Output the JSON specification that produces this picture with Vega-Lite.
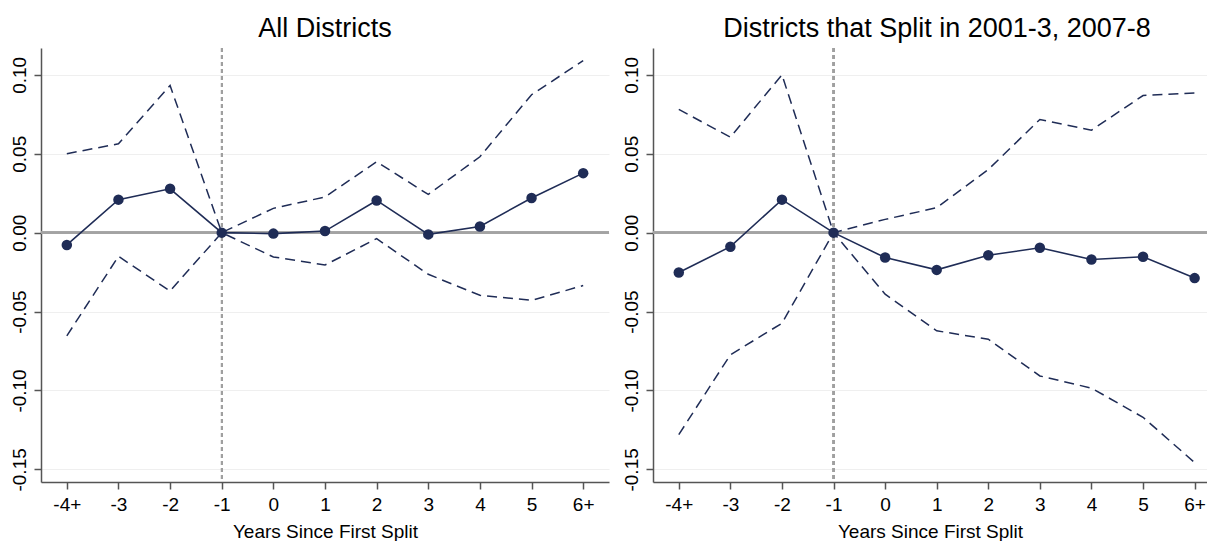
{
  "$schema": "https://vega.github.io/schema/vega-lite/v6.json",
  "background": "white",
  "padding": {"left": 10, "top": 15, "right": 0, "bottom": 0},
  "bounds": "flush",
  "spacing": 44,
  "config": {
    "font": "Liberation Sans",
    "view": {"stroke": null},
    "title": {"fontSize": 27, "fontWeight": "normal", "color": "#000000", "baseline": "alphabetic", "offset": 4, "anchor": "middle", "font": "Liberation Sans"},
    "axis": {
      "domainColor": "#555555", "domainWidth": 1.5,
      "tickColor": "#555555", "tickWidth": 1.5, "tickSize": 7,
      "labelFont": "Liberation Sans", "labelFontSize": 19, "labelColor": "#000000",
      "titleFont": "Liberation Sans", "titleFontSize": 19, "titleFontWeight": "normal", "titleColor": "#000000",
      "labelOverlap": false
    },
    "axisX": {"grid": false, "labelPadding": 6, "titlePadding": 8, "labelAngle": 0, "labelFlush": false},
    "axisY": {"grid": true, "gridColor": "#efefef", "gridWidth": 1.2, "labelAngle": -90, "labelAlign": "center", "labelBaseline": "alphabetic", "labelPadding": 9}
  },
  "datasets": {
    "all": [
      {"t": -4, "est": -0.0078, "lo": -0.0654, "hi": 0.0500},
      {"t": -3, "est": 0.0209, "lo": -0.0150, "hi": 0.0563},
      {"t": -2, "est": 0.0278, "lo": -0.0370, "hi": 0.0932},
      {"t": -1, "est": 0.0, "lo": 0.0, "hi": 0.0},
      {"t": 0, "est": -0.0006, "lo": -0.0154, "hi": 0.0154},
      {"t": 1, "est": 0.0010, "lo": -0.0205, "hi": 0.0226},
      {"t": 2, "est": 0.0204, "lo": -0.0038, "hi": 0.0449},
      {"t": 3, "est": -0.0011, "lo": -0.0264, "hi": 0.0242},
      {"t": 4, "est": 0.0039, "lo": -0.0397, "hi": 0.0481},
      {"t": 5, "est": 0.0220, "lo": -0.0429, "hi": 0.0874},
      {"t": 6, "est": 0.0377, "lo": -0.0335, "hi": 0.1090}
    ],
    "split": [
      {"t": -4, "est": -0.0253, "lo": -0.1280, "hi": 0.0781},
      {"t": -3, "est": -0.0089, "lo": -0.0774, "hi": 0.0605},
      {"t": -2, "est": 0.0209, "lo": -0.0574, "hi": 0.1000},
      {"t": -1, "est": 0.0, "lo": 0.0, "hi": 0.0},
      {"t": 0, "est": -0.0158, "lo": -0.0390, "hi": 0.0084},
      {"t": 1, "est": -0.0236, "lo": -0.0622, "hi": 0.0158},
      {"t": 2, "est": -0.0143, "lo": -0.0675, "hi": 0.0400},
      {"t": 3, "est": -0.0096, "lo": -0.0908, "hi": 0.0717},
      {"t": 4, "est": -0.0170, "lo": -0.0985, "hi": 0.0649},
      {"t": 5, "est": -0.0153, "lo": -0.1170, "hi": 0.0869},
      {"t": 6, "est": -0.0288, "lo": -0.1457, "hi": 0.0885}
    ]
  },
  "hconcat": [
    {
      "width": 568,
      "height": 434,
      "title": "All Districts",
      "data": {"name": "all"},
      "layer": [
        {
          "mark": {"type": "rule", "color": "#a3a3a3", "strokeWidth": 1.6},
          "encoding": {"y": {"datum": 0, "type": "quantitative", "scale": {"domain": [-0.158, 0.117], "nice": false, "zero": false}}}
        },
        {
          "mark": {"type": "rule", "color": "#a0a0a0", "strokeWidth": 1.5, "strokeDash": [4, 3]},
          "encoding": {"x": {"datum": -1, "type": "quantitative", "scale": {"domain": [-4.5, 6.5], "nice": false, "zero": false}}}
        },
        {
          "mark": {"type": "line", "color": "#1f2c56", "strokeWidth": 1.5, "strokeDash": [10, 6]},
          "encoding": {
            "x": {"field": "t", "type": "quantitative", "scale": {"domain": [-4.5, 6.5], "nice": false, "zero": false}},
            "y": {"field": "hi", "type": "quantitative", "scale": {"domain": [-0.158, 0.117], "nice": false, "zero": false}}
          }
        },
        {
          "mark": {"type": "line", "color": "#1f2c56", "strokeWidth": 1.5, "strokeDash": [10, 6]},
          "encoding": {
            "x": {"field": "t", "type": "quantitative", "scale": {"domain": [-4.5, 6.5], "nice": false, "zero": false}},
            "y": {"field": "lo", "type": "quantitative", "scale": {"domain": [-0.158, 0.117], "nice": false, "zero": false}}
          }
        },
        {
          "mark": {"type": "line", "color": "#1f2c56", "strokeWidth": 1.6},
          "encoding": {
            "x": {"field": "t", "type": "quantitative", "scale": {"domain": [-4.5, 6.5], "nice": false, "zero": false}},
            "y": {"field": "est", "type": "quantitative", "scale": {"domain": [-0.158, 0.117], "nice": false, "zero": false}}
          }
        },
        {
          "mark": {"type": "point", "filled": true, "size": 110, "color": "#1f2c56", "opacity": 1},
          "encoding": {
            "x": {
              "field": "t", "type": "quantitative",
              "scale": {"domain": [-4.5, 6.5], "nice": false, "zero": false},
              "axis": {"values": [-4, -3, -2, -1, 0, 1, 2, 3, 4, 5, 6], "labelExpr": "datum.value == -4 ? '-4+' : datum.value == 6 ? '6+' : '' + datum.value"},
              "title": "Years Since First Split"
            },
            "y": {
              "field": "est", "type": "quantitative",
              "scale": {"domain": [-0.158, 0.117], "nice": false, "zero": false},
              "axis": {"values": [-0.15, -0.1, -0.05, 0, 0.05, 0.1], "labelExpr": "replace(format(datum.value, '.2f'), '\u2212', '-')"},
              "title": null
            }
          }
        }
      ]
    },
    {
      "width": 554,
      "height": 434,
      "title": {"text": "Districts that Split in 2001-3, 2007-8", "dx": 7},
      "data": {"name": "split"},
      "layer": [
        {
          "mark": {"type": "rule", "color": "#a3a3a3", "strokeWidth": 1.6},
          "encoding": {"y": {"datum": 0, "type": "quantitative", "scale": {"domain": [-0.158, 0.117], "nice": false, "zero": false}}}
        },
        {
          "mark": {"type": "rule", "color": "#a0a0a0", "strokeWidth": 1.5, "strokeDash": [4, 3]},
          "encoding": {"x": {"datum": -1, "type": "quantitative", "scale": {"domain": [-4.5, 6.24], "nice": false, "zero": false}}}
        },
        {
          "mark": {"type": "line", "color": "#1f2c56", "strokeWidth": 1.5, "strokeDash": [10, 6]},
          "encoding": {
            "x": {"field": "t", "type": "quantitative", "scale": {"domain": [-4.5, 6.24], "nice": false, "zero": false}},
            "y": {"field": "hi", "type": "quantitative", "scale": {"domain": [-0.158, 0.117], "nice": false, "zero": false}}
          }
        },
        {
          "mark": {"type": "line", "color": "#1f2c56", "strokeWidth": 1.5, "strokeDash": [10, 6]},
          "encoding": {
            "x": {"field": "t", "type": "quantitative", "scale": {"domain": [-4.5, 6.24], "nice": false, "zero": false}},
            "y": {"field": "lo", "type": "quantitative", "scale": {"domain": [-0.158, 0.117], "nice": false, "zero": false}}
          }
        },
        {
          "mark": {"type": "line", "color": "#1f2c56", "strokeWidth": 1.6},
          "encoding": {
            "x": {"field": "t", "type": "quantitative", "scale": {"domain": [-4.5, 6.24], "nice": false, "zero": false}},
            "y": {"field": "est", "type": "quantitative", "scale": {"domain": [-0.158, 0.117], "nice": false, "zero": false}}
          }
        },
        {
          "mark": {"type": "point", "filled": true, "size": 110, "color": "#1f2c56", "opacity": 1},
          "encoding": {
            "x": {
              "field": "t", "type": "quantitative",
              "scale": {"domain": [-4.5, 6.24], "nice": false, "zero": false},
              "axis": {"values": [-4, -3, -2, -1, 0, 1, 2, 3, 4, 5, 6], "labelExpr": "datum.value == -4 ? '-4+' : datum.value == 6 ? '6+' : '' + datum.value"},
              "title": "Years Since First Split"
            },
            "y": {
              "field": "est", "type": "quantitative",
              "scale": {"domain": [-0.158, 0.117], "nice": false, "zero": false},
              "axis": {"values": [-0.15, -0.1, -0.05, 0, 0.05, 0.1], "labelExpr": "replace(format(datum.value, '.2f'), '\u2212', '-')"},
              "title": null
            }
          }
        }
      ]
    }
  ]
}
